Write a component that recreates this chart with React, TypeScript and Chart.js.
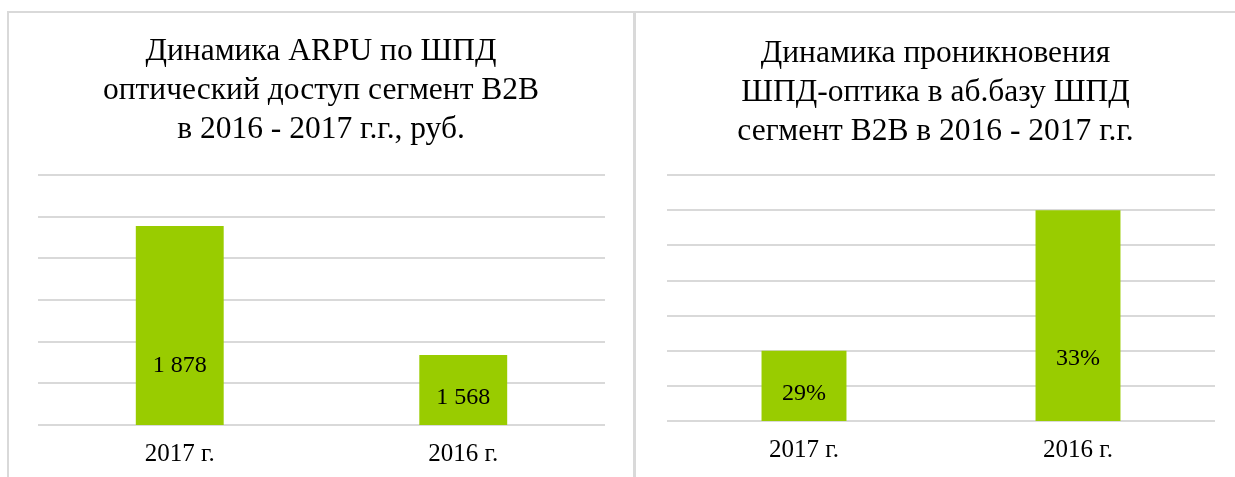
import React, { useEffect, useRef } from 'react';
import { Chart, registerables } from 'chart.js';

Chart.register(...registerables);

// ---- data ----
const categories = ['2017 г.', '2016 г.'];
const arpuValues = [1878, 1568];
const penetrationValues = [29, 33];
const arpuTitle = ['Динамика ARPU по ШПД', 'оптический доступ сегмент B2B', 'в 2016 - 2017 г.г., руб.'];
const penetrationTitle = ['Динамика проникновения', 'ШПД-оптика в аб.базу ШПД', 'сегмент B2B в 2016 - 2017 г.г.'];
const arpuAxis = { min: 1400, max: 2000, step: 100 };
const penetrationAxis = { min: 27, max: 34, step: 1 };

const FONT = "'Liberation Serif', 'Times New Roman', serif";
const BAR = '#99cc00';
const GRID = '#d9d9d9';

const formatArpu = (v: number) => {
  const s = String(v);
  return s.length > 3 ? s.slice(0, s.length - 3) + ' ' + s.slice(-3) : s;
};
const formatPct = (v: number) => `${v}%`;

type BoxProps = {
  left: number;
  width: number;
  values: number[];
  axis: { min: number; max: number; step: number };
  title: string[];
  format: (v: number) => string;
  sidePad: number;
  yWidth: number;
  xHeight: number;
  titleTop: number;
};

function BarPanel(p: BoxProps) {
  const ref = useRef<HTMLCanvasElement | null>(null);
  useEffect(() => {
    if (!ref.current) return;
    const labelPlugin = {
      id: 'barLabelsCustom',
      afterDraw(chart: any) {
        const ctx = chart.ctx;
        const xs = chart.scales.x;
        const ys = chart.scales.y;
        const base = ys.getPixelForValue(ys.min);
        ctx.save();
        ctx.font = '24px "Liberation Serif", serif';
        ctx.fillStyle = '#000000';
        ctx.textAlign = 'center';
        ctx.textBaseline = 'middle';
        p.values.forEach((v, i) => {
          const top = ys.getPixelForValue(v);
          const h = base - top;
          const y = base - 0.25 * h - 10;
          ctx.fillText(p.format(v), xs.getPixelForValue(i), y);
        });
        ctx.restore();
      },
    };
    const chart = new Chart(ref.current, {
      type: 'bar',
      data: {
        labels: categories,
        datasets: [
          {
            data: p.values,
            backgroundColor: BAR,
            barPercentage: 0.31,
            categoryPercentage: 1,
          },
        ],
      },
      options: {
        responsive: false,
        animation: false,
        layout: { padding: { left: p.sidePad, right: p.sidePad, top: 0, bottom: 0 } },
        plugins: {
          legend: { display: false },
          tooltip: { enabled: false },
          title: {
            display: true,
            text: p.title,
            color: '#000',
            font: { family: FONT, size: 31.5, weight: 'normal', lineHeight: 1.24 },
            padding: { top: p.titleTop, bottom: 45 - p.titleTop },
          },
        },
        scales: {
          x: {
            grid: { display: false, drawTicks: false },
            border: { display: false },
            ticks: { color: '#000', font: { family: FONT, size: 25 }, padding: 14 },
            afterFit: (s: any) => {
              s.height = p.xHeight;
            },
          },
          y: {
            min: p.axis.min,
            max: p.axis.max,
            ticks: { display: false, stepSize: p.axis.step },
            grid: { color: GRID, lineWidth: 2, drawTicks: false },
            border: { display: false },
            afterFit: (s: any) => {
              s.width = p.yWidth;
            },
          },
        },
      },
      plugins: [labelPlugin],
    });
    return () => chart.destroy();
  }, []);
  return (
    <div style={{ position: 'absolute', left: p.left, top: 13, width: p.width, height: 464 }}>
      <canvas ref={ref} width={p.width} height={464} />
    </div>
  );
}

export default function App() {
  return (
    <div style={{ position: 'fixed', left: 0, top: 0, width: 1235, height: 477, background: '#fff', overflow: 'hidden' }}>
      <div style={{ position: 'absolute', left: 7, top: 11, width: 1228, height: 2, background: GRID }} />
      <div style={{ position: 'absolute', left: 7, top: 11, width: 2, height: 466, background: GRID }} />
      <div style={{ position: 'absolute', left: 633, top: 11, width: 3, height: 466, background: GRID }} />
      <BarPanel left={9} width={624} values={arpuValues} axis={arpuAxis} title={arpuTitle} format={formatArpu} sidePad={28} yWidth={1} xHeight={52} titleTop={19} />
      <BarPanel left={636} width={599} values={penetrationValues} axis={penetrationAxis} title={penetrationTitle} format={formatPct} sidePad={20} yWidth={11} xHeight={56} titleTop={21} />
    </div>
  );
}
